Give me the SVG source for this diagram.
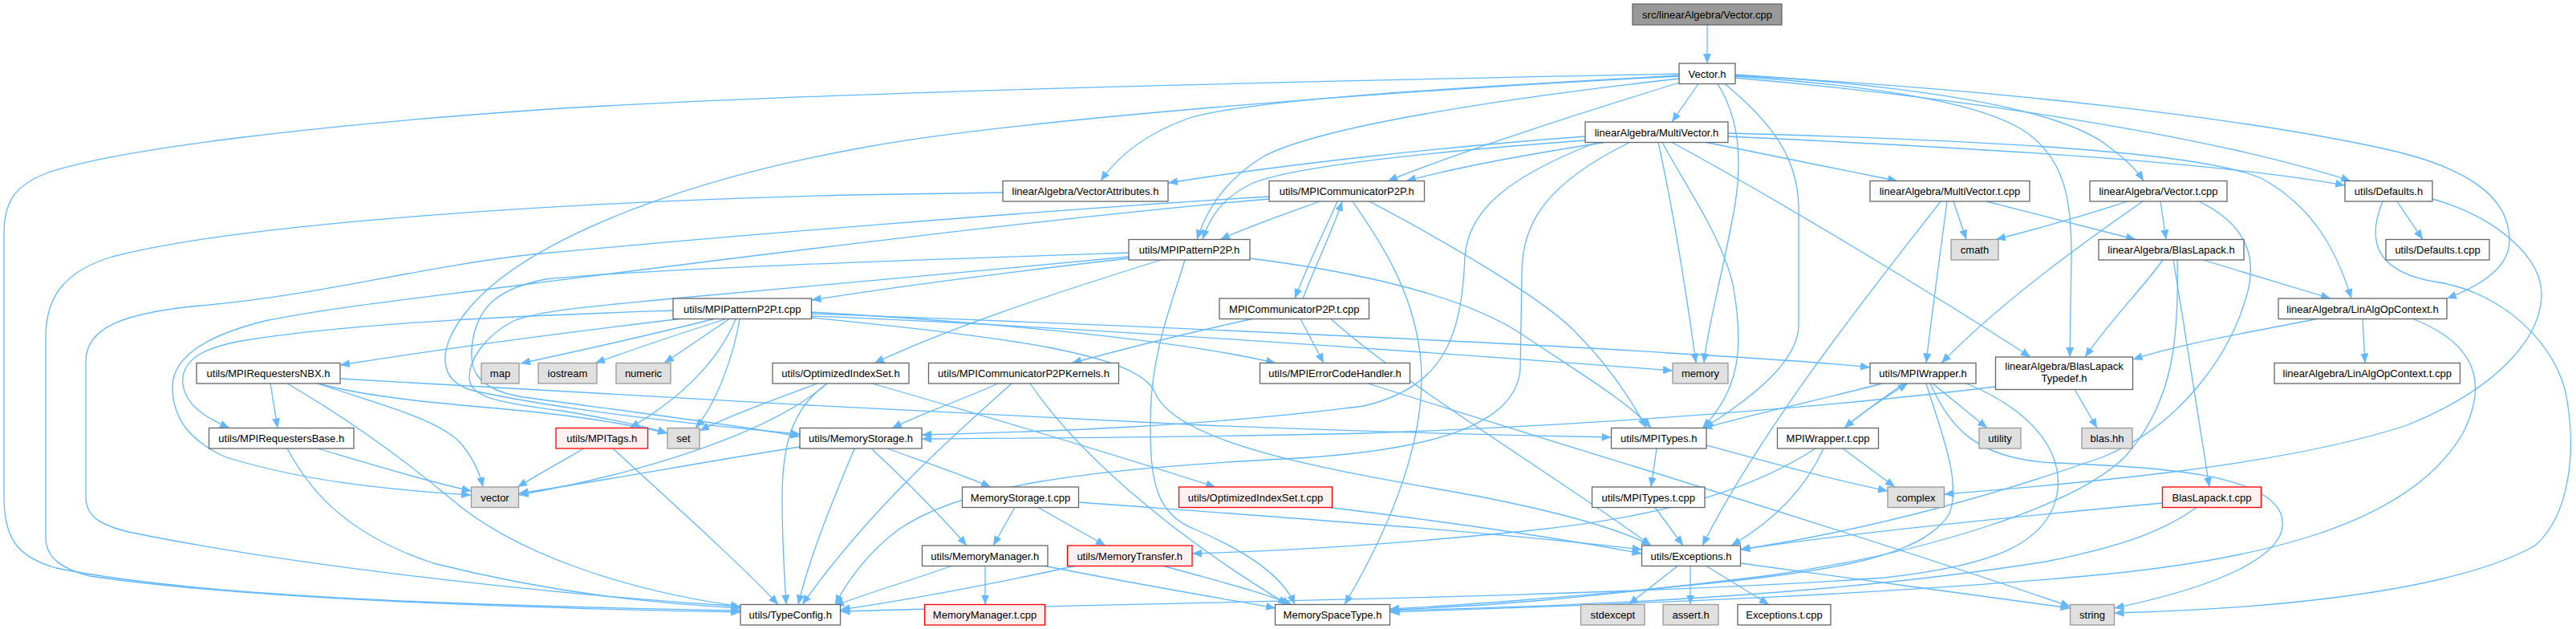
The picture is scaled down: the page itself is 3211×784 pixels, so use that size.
<svg xmlns="http://www.w3.org/2000/svg" width="3211" height="784" viewBox="0 0 3211 784">
<defs>
<marker id="ah" viewBox="0 0 12 10" refX="12" refY="5" markerWidth="12" markerHeight="10" markerUnits="userSpaceOnUse" orient="auto"><path d="M0,0L12,5L0,10z" fill="#63b8ff"/></marker>
<style>
.e path{fill:none;stroke:#63b8ff;stroke-width:1.3;marker-end:url(#ah)}
g.n rect{fill:#ffffff;stroke:#666666;stroke-width:1.3}
g.x rect{fill:#e0e0e0;stroke:#999999;stroke-width:1.3}
g.r rect{fill:#fff0f0;stroke:#ff0000;stroke-width:1.3}
g.root rect{fill:#999999;stroke:#666666;stroke-width:1.3}
text{font-family:"Liberation Sans",Arial,Helvetica,sans-serif;font-size:13px;fill:#000000;text-anchor:middle}
</style>
</defs>
<rect x="0" y="0" width="3211" height="784" fill="#ffffff"/>
<g id="edges" class="e">
<path d="M2128,31 L2128,79"/>
<path d="M2117,104.5 L2084,152"/>
<path d="M2093,103 C1990,135 1830,185 1730,225.5"/>
<path d="M2093,98 C1850,125 1640,160 1575,195 C1530,222 1505,258 1492,298.5"/>
<path d="M2093,94 C1850,108 1560,122 1480,148 C1425,168 1393,195 1372,225.5"/>
<path d="M2093,92 C1700,100 1100,112 700,135 C400,155 150,185 60,215 C20,230 5,250 5,290 L5,620 C5,675 25,695 70,708 C250,745 600,755 923,761"/>
<path d="M2093,95 C1750,112 1250,150 1070,185 C850,225 650,300 580,390 C545,435 545,475 590,487 C720,515 900,532 997,541"/>
<path d="M2141,104.5 C2170,150 2172,210 2160,270 C2145,350 2128,410 2124,452.5"/>
<path d="M2150,104.5 C2205,150 2242,195 2242,260 L2242,405 C2242,450 2185,495 2124,533.5"/>
<path d="M2163,95 C2350,108 2480,130 2530,168 C2578,205 2582,260 2582,320 L2580,445"/>
<path d="M2163,93 C2400,108 2560,135 2622,178 C2648,197 2662,210 2672,225.5"/>
<path d="M2163,97 C2450,122 2760,170 2930,225.5"/>
<path d="M2163,94 C2500,112 2800,148 2970,185 C3085,210 3128,250 3128,300 C3128,332 3095,355 3050,372"/>
<path d="M1976,170 C1800,183 1600,205 1456,228"/>
<path d="M1976,175 C1800,188 1620,205 1562,228 C1525,245 1508,270 1499,298.5"/>
<path d="M2000,177.5 C1900,193 1810,210 1753,225.5"/>
<path d="M1990,177.5 C1880,220 1830,262 1826,320 C1822,420 1800,482 1700,506 C1500,532 1300,538 1149,542"/>
<path d="M2031,177.5 C1925,230 1897,280 1897,340 L1895,460 C1890,525 1800,562 1600,572 C1350,585 1200,605 1120,660 C1080,690 1056,725 1041,753.5"/>
<path d="M2067,177.5 C2085,260 2100,350 2114,452.5"/>
<path d="M2072,177.5 C2100,230 2150,300 2161,360 C2173,430 2170,485 2122,533.5"/>
<path d="M2084,177.5 C2200,240 2400,360 2531,445"/>
<path d="M2154,166 C2450,174 2750,188 2822,224 C2882,258 2912,310 2931,372"/>
<path d="M2154,170 C2450,184 2750,200 2923,231"/>
<path d="M2127,177.5 L2365,225.5"/>
<path d="M1250,240 L1060,243 C700,252 300,278 140,320 C80,338 57,370 57,420 L57,670 C57,697 80,710 112,718 C300,746 650,758 923,763"/>
<path d="M1582,245 C1300,262 900,295 664,317 C520,333 400,368 250,381 C150,390 107,410 107,450 L107,620 C107,645 128,655 160,663 C350,702 650,738 923,756"/>
<path d="M1582,248 C1300,272 850,330 667,353 C520,372 420,382 330,400 C250,420 215,448 215,482 C215,522 237,550 282,570 C380,600 480,610 587,617"/>
<path d="M1645,251 C1605,266 1562,280 1521,298.5"/>
<path d="M1667,251 C1650,290 1630,330 1614,372"/>
<path d="M1686,251 C1720,300 1760,360 1770,440 C1780,520 1752,625 1676,753.5"/>
<path d="M1707,251 C1800,300 1920,370 1962,412 C2002,452 2030,492 2052,533.5"/>
<path d="M2419,251 C2350,340 2200,525 2122,680"/>
<path d="M2427,251 C2418,320 2408,390 2401,452.5"/>
<path d="M2435,251 L2451,298.5"/>
<path d="M2476,251 L2662,298.5"/>
<path d="M2652,251 C2600,268 2540,285 2488,298.5"/>
<path d="M2671,251 C2600,300 2490,380 2420,452.5"/>
<path d="M2693,251 L2700,298.5"/>
<path d="M2741,251 C2800,280 2815,320 2800,370 C2780,440 2720,530 2620,570 C2450,630 2300,665 2169,685"/>
<path d="M2988,251 L3020,298.5"/>
<path d="M2970,251 C2950,300 2960,340 3040,352 C3120,365 3190,430 3200,500 C3210,560 3205,640 3160,680 C3050,742 2800,760 2635.5,764"/>
<path d="M3032,248 C3110,270 3170,320 3168,370 C3165,430 3100,490 3000,530 C2850,580 2600,602 2423.5,616"/>
<path d="M2696,324 C2670,360 2630,400 2599,445"/>
<path d="M2746,324 L2905,372"/>
<path d="M2709,324 C2725,420 2740,520 2754,607"/>
<path d="M2714,324 C2716,420 2710,500 2650,568 C2590,630 2400,690 2200,718 C1950,748 1850,756 1732.5,760"/>
<path d="M2888,397.5 C2800,415 2720,428 2658.5,448"/>
<path d="M2945,397.5 L2948,452.5"/>
<path d="M3008,397.5 C3090,430 3100,480 3070,540 C3000,660 2800,700 2600,718 C2300,745 1950,755 1732.5,763"/>
<path d="M2695.5,627 C2500,645 2300,665 2169.5,685"/>
<path d="M2738,632.5 C2700,660 2650,680 2550,700 C2300,740 2000,755 1732.5,761"/>
<path d="M1407,322 C1250,340 1100,360 1011.5,374"/>
<path d="M1447,324 C1300,370 1180,410 1090,452.5"/>
<path d="M1477,324 C1460,380 1435,440 1434,520 C1433,600 1440,640 1490,660 C1560,690 1600,720 1614,753.5"/>
<path d="M1558,322 C1700,340 1830,370 1902,420 C1980,472 2030,502 2058,533.5"/>
<path d="M1407,315 C1200,322 800,335 680,348 C620,360 598,382 590,420 C582,460 592,485 652,495 C800,515 920,530 997,544"/>
<path d="M1407,320 C1200,340 950,362 840,372 C760,380 680,385 640,400 C602,420 585,450 585,470 C585,495 620,502 700,512 C760,522 800,530 832,540"/>
<path d="M839,387 C700,392 450,400 300,425 C240,436 225,456 228,480 C232,505 255,520 286,533.5"/>
<path d="M847,397.5 C700,415 550,435 424,455"/>
<path d="M890,397.5 C800,420 700,442 649,453"/>
<path d="M905,397.5 C850,415 790,435 742,452.5"/>
<path d="M909,397.5 L828,452.5"/>
<path d="M917,397.5 C900,440 860,490 785,533.5"/>
<path d="M922,397.5 C915,440 895,500 867,533.5"/>
<path d="M1011.5,389 C1200,400 1450,420 1590,452.5"/>
<path d="M1011.5,394 C1300,405 1800,440 2085,462"/>
<path d="M1011.5,391 C1400,405 1900,428 2080,440 C2200,447 2280,452 2331,458"/>
<path d="M1011.5,396 C1250,420 1420,440 1440,490 C1470,560 1700,592 1850,620 C1950,640 2020,660 2058,680"/>
<path d="M1624,372 C1640,330 1660,290 1673,251"/>
<path d="M1561,397.5 C1480,415 1400,435 1336,452.5"/>
<path d="M1621,397.5 L1650,452.5"/>
<path d="M1659,397.5 C1750,480 1950,600 2058,680"/>
<path d="M1244,478 C1200,498 1150,515 1112,533.5"/>
<path d="M1261,478 C1180,550 1080,640 1000,753.5"/>
<path d="M1284,478 C1340,560 1450,660 1605,753.5"/>
<path d="M1019,478 C960,500 910,518 872,537"/>
<path d="M1031,478 C960,540 800,590 646.5,617"/>
<path d="M1031,478 C985,510 975,560 975,620 C975,680 978,720 980,753.5"/>
<path d="M1087,478 C1250,525 1400,570 1515,607"/>
<path d="M1705,478 C1900,540 2300,660 2580.5,756"/>
<path d="M2346,478 C2270,498 2190,515 2122,534"/>
<path d="M2373,478 C2350,495 2320,515 2299,533.5"/>
<path d="M2409,478 L2477,533.5"/>
<path d="M2406,478 C2430,530 2460,572 2560,577 C2700,582 2822,592 2843,640 C2862,692 2760,732 2635.5,758"/>
<path d="M2451,478 C2530,510 2570,560 2565,610 C2556,680 2480,705 2350,720 C2000,745 1400,752 1047.5,762"/>
<path d="M2401,478 C2420,540 2445,600 2430,640 C2400,690 2300,712 2100,730 C1950,745 1800,756 1732.5,759"/>
<path d="M2299,533.5 C2320,515 2350,495 2378,478"/>
<path d="M2263,559 C2200,600 2100,642 1900,662 C1700,682 1580,687 1486,690"/>
<path d="M2273,559 C2250,610 2210,650 2158,680"/>
<path d="M2297,559 L2362,607"/>
<path d="M2065,559 L2058,607"/>
<path d="M2127,555 C2200,575 2280,597 2353,612"/>
<path d="M2063,632.5 L2098,680"/>
<path d="M997,557 C880,575 760,598 646.5,615"/>
<path d="M1065,559 C1040,620 1010,690 995,753.5"/>
<path d="M1086,559 C1130,600 1170,640 1205,680"/>
<path d="M1106,559 C1150,575 1200,592 1235,607"/>
<path d="M1265,632.5 L1238,680"/>
<path d="M1294,632.5 L1378,680"/>
<path d="M1344.5,626 C1600,645 1850,662 2046.5,685"/>
<path d="M1657,632.5 C1800,650 1950,672 2046.5,690"/>
<path d="M1228,705.5 L1228,753.5"/>
<path d="M1186,705.5 C1130,725 1080,740 1040,755"/>
<path d="M1303,705.5 C1400,725 1500,742 1590,758"/>
<path d="M1340,705.5 C1250,725 1150,745 1047.5,760"/>
<path d="M1451,705.5 C1520,725 1580,740 1610,753.5"/>
<path d="M728,559 C700,575 670,592 645,607"/>
<path d="M764,559 C830,620 920,700 970,753.5"/>
<path d="M396,559 C450,575 520,597 587.5,612"/>
<path d="M358,559 C380,600 420,662 540,702 C700,742 820,752 923,758"/>
<path d="M337,478 L346,533.5"/>
<path d="M358,478 C430,520 500,570 560,620 C640,690 780,736 923,756"/>
<path d="M396,478 C460,500 540,520 572,550 C590,570 598,590 602,607"/>
<path d="M424,472 C700,490 1200,515 1500,530 C1750,540 1900,543 2008.5,545"/>
<path d="M396,478 C460,495 540,502 620,509 C720,518 790,530 832,540"/>
<path d="M2091,705.5 L2030,753.5"/>
<path d="M2107,705.5 L2107,753.5"/>
<path d="M2127,705.5 L2205,753.5"/>
<path d="M2169.5,702 C2300,720 2450,740 2580.5,758"/>
<path d="M2586,485.5 L2614,533.5"/>
<path d="M2487.5,482 C2300,505 2000,530 1700,540 C1500,545 1300,546 1149,547"/>
</g>
<g id="n_vector_cpp" class="root"><rect x="2035" y="5" width="186" height="26"/><text x="2128" y="22.5">src/linearAlgebra/Vector.cpp</text></g>
<g id="n_vector_h" class="n"><rect x="2093" y="79" width="70" height="25.5"/><text x="2128" y="96.5">Vector.h</text></g>
<g id="n_multivector_h" class="n"><rect x="1976" y="152" width="178" height="25.5"/><text x="2065" y="169.5">linearAlgebra/MultiVector.h</text></g>
<g id="n_vectorattributes_h" class="n"><rect x="1250" y="225.5" width="206" height="25.5"/><text x="1353" y="243">linearAlgebra/VectorAttributes.h</text></g>
<g id="n_mpicommunicatorp2p_h" class="n"><rect x="1582" y="225.5" width="193.5" height="25.5"/><text x="1678.75" y="243">utils/MPICommunicatorP2P.h</text></g>
<g id="n_multivector_t_cpp" class="n"><rect x="2331" y="225.5" width="199" height="25.5"/><text x="2430.5" y="243">linearAlgebra/MultiVector.t.cpp</text></g>
<g id="n_vector_t_cpp" class="n"><rect x="2605" y="225.5" width="171" height="25.5"/><text x="2690.5" y="243">linearAlgebra/Vector.t.cpp</text></g>
<g id="n_defaults_h" class="n"><rect x="2923" y="225.5" width="109" height="25.5"/><text x="2977.5" y="243">utils/Defaults.h</text></g>
<g id="n_mpipatternp2p_h" class="n"><rect x="1407" y="298.5" width="151" height="25.5"/><text x="1482.5" y="316">utils/MPIPatternP2P.h</text></g>
<g id="n_cmath" class="x"><rect x="2432" y="298.5" width="59" height="25.5"/><text x="2461.5" y="316">cmath</text></g>
<g id="n_blaslapack_h" class="n"><rect x="2616" y="298.5" width="181" height="25.5"/><text x="2706.5" y="316">linearAlgebra/BlasLapack.h</text></g>
<g id="n_defaults_t_cpp" class="n"><rect x="2974" y="298.5" width="129" height="25.5"/><text x="3038.5" y="316">utils/Defaults.t.cpp</text></g>
<g id="n_mpipatternp2p_t_cpp" class="n"><rect x="839" y="372" width="172.5" height="25.5"/><text x="925.25" y="389.5">utils/MPIPatternP2P.t.cpp</text></g>
<g id="n_mpicommunicatorp2p_t_cpp" class="n"><rect x="1520" y="372" width="186.5" height="25.5"/><text x="1613.25" y="389.5">MPICommunicatorP2P.t.cpp</text></g>
<g id="n_linalgopcontext_h" class="n"><rect x="2840" y="372" width="210" height="25.5"/><text x="2945" y="389.5">linearAlgebra/LinAlgOpContext.h</text></g>
<g id="n_mpirequestersnbx_h" class="n"><rect x="245" y="452.5" width="179" height="25.5"/><text x="334.5" y="470">utils/MPIRequestersNBX.h</text></g>
<g id="n_map" class="x"><rect x="600" y="452.5" width="47" height="25.5"/><text x="623.5" y="470">map</text></g>
<g id="n_iostream" class="x"><rect x="671" y="452.5" width="73" height="25.5"/><text x="707.5" y="470">iostream</text></g>
<g id="n_numeric" class="x"><rect x="768" y="452.5" width="68" height="25.5"/><text x="802" y="470">numeric</text></g>
<g id="n_optimizedindexset_h" class="n"><rect x="963" y="452.5" width="170" height="25.5"/><text x="1048" y="470">utils/OptimizedIndexSet.h</text></g>
<g id="n_mpicommunicatorp2pkernels_h" class="n"><rect x="1157.5" y="452.5" width="237" height="25.5"/><text x="1276" y="470">utils/MPICommunicatorP2PKernels.h</text></g>
<g id="n_mpierrorcodehandler_h" class="n"><rect x="1570.5" y="452.5" width="187" height="25.5"/><text x="1664" y="470">utils/MPIErrorCodeHandler.h</text></g>
<g id="n_memory" class="x"><rect x="2085" y="452.5" width="69" height="25.5"/><text x="2119.5" y="470">memory</text></g>
<g id="n_mpiwrapper_h" class="n"><rect x="2331" y="452.5" width="132" height="25.5"/><text x="2397" y="470">utils/MPIWrapper.h</text></g>
<g id="n_blaslapacktypedef_h" class="n"><rect x="2487.5" y="445" width="171" height="40.5"/><text x="2573" y="461">linearAlgebra/BlasLapack</text><text x="2573" y="476">Typedef.h</text></g>
<g id="n_linalgopcontext_t_cpp" class="n"><rect x="2835" y="452.5" width="231.5" height="25.5"/><text x="2950.75" y="470">linearAlgebra/LinAlgOpContext.t.cpp</text></g>
<g id="n_mpirequestersbase_h" class="n"><rect x="260.5" y="533.5" width="180.5" height="25.5"/><text x="350.75" y="551">utils/MPIRequestersBase.h</text></g>
<g id="n_mpitags_h" class="r"><rect x="693" y="533.5" width="114.5" height="25.5"/><text x="750.25" y="551">utils/MPITags.h</text></g>
<g id="n_set" class="x"><rect x="832" y="533.5" width="40" height="25.5"/><text x="852" y="551">set</text></g>
<g id="n_memorystorage_h" class="n"><rect x="997" y="533.5" width="152" height="25.5"/><text x="1073" y="551">utils/MemoryStorage.h</text></g>
<g id="n_mpitypes_h" class="n"><rect x="2008.5" y="533.5" width="118.5" height="25.5"/><text x="2067.75" y="551">utils/MPITypes.h</text></g>
<g id="n_mpiwrapper_t_cpp" class="n"><rect x="2215.5" y="533.5" width="126" height="25.5"/><text x="2278.5" y="551">MPIWrapper.t.cpp</text></g>
<g id="n_utility" class="x"><rect x="2467" y="533.5" width="52" height="25.5"/><text x="2493" y="551">utility</text></g>
<g id="n_blas_hh" class="x"><rect x="2595" y="533.5" width="63" height="25.5"/><text x="2626.5" y="551">blas.hh</text></g>
<g id="n_vector" class="x"><rect x="587.5" y="607" width="59" height="25.5"/><text x="617" y="624.5">vector</text></g>
<g id="n_memorystorage_t_cpp" class="n"><rect x="1199.5" y="607" width="145" height="25.5"/><text x="1272" y="624.5">MemoryStorage.t.cpp</text></g>
<g id="n_optimizedindexset_t_cpp" class="r"><rect x="1469.5" y="607" width="191" height="25.5"/><text x="1565" y="624.5">utils/OptimizedIndexSet.t.cpp</text></g>
<g id="n_mpitypes_t_cpp" class="n"><rect x="1984.5" y="607" width="140.5" height="25.5"/><text x="2054.75" y="624.5">utils/MPITypes.t.cpp</text></g>
<g id="n_complex" class="x"><rect x="2353" y="607" width="70.5" height="25.5"/><text x="2388.25" y="624.5">complex</text></g>
<g id="n_blaslapack_t_cpp" class="r"><rect x="2695.5" y="607" width="123" height="25.5"/><text x="2757" y="624.5">BlasLapack.t.cpp</text></g>
<g id="n_memorymanager_h" class="n"><rect x="1149.5" y="680" width="156.5" height="25.5"/><text x="1227.75" y="697.5">utils/MemoryManager.h</text></g>
<g id="n_memorytransfer_h" class="r"><rect x="1330.5" y="680" width="155.5" height="25.5"/><text x="1408.25" y="697.5">utils/MemoryTransfer.h</text></g>
<g id="n_exceptions_h" class="n"><rect x="2046.5" y="680" width="123" height="25.5"/><text x="2108" y="697.5">utils/Exceptions.h</text></g>
<g id="n_typeconfig_h" class="n"><rect x="923" y="753.5" width="124.5" height="25.5"/><text x="985.25" y="771">utils/TypeConfig.h</text></g>
<g id="n_memorymanager_t_cpp" class="r"><rect x="1152.5" y="753.5" width="150" height="25.5"/><text x="1227.5" y="771">MemoryManager.t.cpp</text></g>
<g id="n_memoryspacetype_h" class="n"><rect x="1589.5" y="753.5" width="143" height="25.5"/><text x="1661" y="771">MemorySpaceType.h</text></g>
<g id="n_stdexcept" class="x"><rect x="1970.5" y="753.5" width="79.5" height="25.5"/><text x="2010.25" y="771">stdexcept</text></g>
<g id="n_assert_h" class="x"><rect x="2073" y="753.5" width="69" height="25.5"/><text x="2107.5" y="771">assert.h</text></g>
<g id="n_exceptions_t_cpp" class="n"><rect x="2166" y="753.5" width="116" height="25.5"/><text x="2224" y="771">Exceptions.t.cpp</text></g>
<g id="n_string" class="x"><rect x="2580.5" y="753.5" width="55" height="25.5"/><text x="2608" y="771">string</text></g>
</svg>
